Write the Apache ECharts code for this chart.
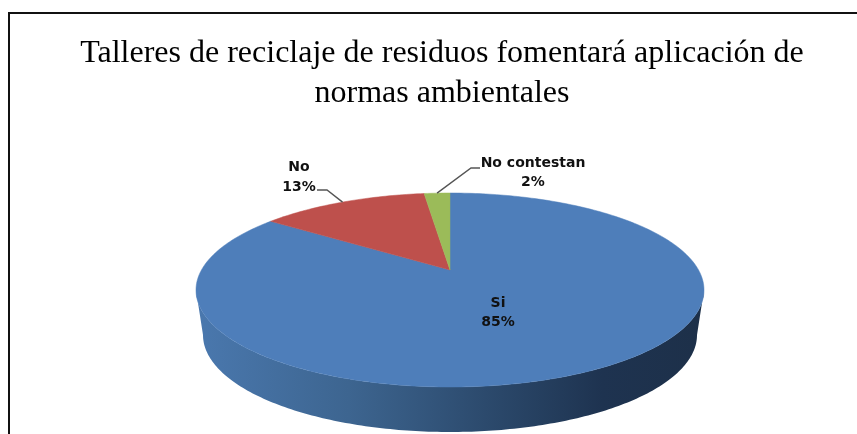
<!DOCTYPE html>
<html><head><meta charset="utf-8">
<style>html,body{margin:0;padding:0;background:#fff}#c{width:857px;height:434px}</style>
<script src="https://cdn.jsdelivr.net/npm/echarts@6/dist/echarts.min.js"></script>
</head><body><div id="c"></div>
<script>
const titleText = 'Talleres de reciclaje de residuos fomentará aplicación de\nnormas ambientales';
const categories = ['Si', 'No', 'No contestan'];
const values = [85, 13, 2];
const colors = ['#4E7EBA', '#BE504C', '#9BBB59'];

// Pie geometry (tilted, perspective disc)
const cx = 450, cy = 290, rx = 254, ry = 97;
const apexShift = 20 / 97;
const depthY = 45, depthShrink = 7;

const total = values.reduce((a, b) => a + b, 0);
let running = 0;
const slices = values.map((v, i) => { const s = running; running += v; return [v, s, i]; });

function rimPoint(frac) {
  const t = frac * 2 * Math.PI, u = Math.sin(t), v = Math.cos(t), a = apexShift;
  const d = 1 + a * v;
  return [cx + rx * u * Math.sqrt(1 - a * a) / d, cy - ry * (v + a) / d];
}
const apex = [cx, cy - ry * apexShift];

// Label placement per category: text centre, line gap, leader elbow
const labelStyle = {
  'Si': { x: 498, y: 303, gap: 19 },
  'No': { x: 299, y: 167, gap: 20, from: [317, 190], elbow: [327, 190] },
  'No contestan': { x: 533, y: 163, gap: 19, from: [480, 168], elbow: [471, 168] }
};

function renderSlice(params, api) {
  const val = api.value(0), start = api.value(1), i = api.value(2);
  const f0 = start / total, f1 = (start + val) / total;
  const pts = [apex.slice()];
  const n = Math.max(2, Math.ceil((f1 - f0) * 360));
  for (let k = 0; k <= n; k++) pts.push(rimPoint(f0 + (f1 - f0) * k / n));
  const kids = [];
  if (f0 <= 0.5 && f1 >= 0.5) {
    // visible front wall of the disc
    const wall = [];
    for (let k = 0; k <= 180; k++) {
      const t = k * Math.PI / 180;
      wall.push([cx - rx * Math.cos(t), cy + ry * Math.sin(t)]);
    }
    for (let k = 180; k >= 0; k--) {
      const t = k * Math.PI / 180;
      wall.push([cx - (rx - depthShrink) * Math.cos(t), cy + depthY + ry * Math.sin(t)]);
    }
    kids.push({
      type: 'polygon', shape: { points: wall },
      style: { fill: new echarts.graphic.LinearGradient(0, 0, 1, 0, [
        { offset: 0, color: '#4A78AE' }, { offset: 0.3, color: '#3D6590' },
        { offset: 0.6, color: '#2A4769' }, { offset: 0.8, color: '#1E3350' },
        { offset: 1, color: '#1D3049' }]) }
    });
  }
  kids.push({ type: 'polygon', shape: { points: pts },
    style: { fill: colors[i], stroke: colors[i], lineWidth: 0.5 } });
  return { type: 'group', children: kids };
}

function renderLabel(params, api) {
  const val = api.value(0), start = api.value(1), i = api.value(2);
  const name = categories[i], s = labelStyle[name];
  const kids = [];
  if (s.from) {
    const end = rimPoint((start + val / 2) / total);
    kids.push({ type: 'polyline', shape: { points: [s.from, s.elbow, end] },
      style: { stroke: '#555', lineWidth: 1.4, fill: null } });
  }
  const font = 'bold 14px "DejaVu Sans", sans-serif';
  kids.push({ type: 'text', style: { text: name, x: s.x, y: s.y, align: 'center', verticalAlign: 'middle', font, fill: '#111' } });
  kids.push({ type: 'text', style: { text: Math.round(val / total * 100) + '%', x: s.x, y: s.y + s.gap, align: 'center', verticalAlign: 'middle', font, fill: '#111' } });
  return { type: 'group', children: kids };
}

const chart = echarts.init(document.getElementById('c'), null, { renderer: 'canvas' });
chart.setOption({
  animation: false,
  backgroundColor: '#fff',
  title: {
    text: titleText, left: 437, top: 29, textAlign: 'center',
    textStyle: { fontFamily: '"Liberation Serif", serif', fontWeight: 'normal', fontSize: 32, lineHeight: 40, color: '#000' }
  },
  graphic: [{ type: 'polyline', silent: true, z: 10,
    shape: { points: [[9, 434], [9, 13], [857, 13]] },
    style: { stroke: '#111', lineWidth: 2, fill: null } }],
  series: [
    { type: 'custom', coordinateSystem: 'none', renderItem: renderSlice, data: slices, silent: true, z: 2 },
    { type: 'custom', coordinateSystem: 'none', renderItem: renderLabel, data: slices, silent: true, z: 3 }
  ]
});
</script></body></html>
